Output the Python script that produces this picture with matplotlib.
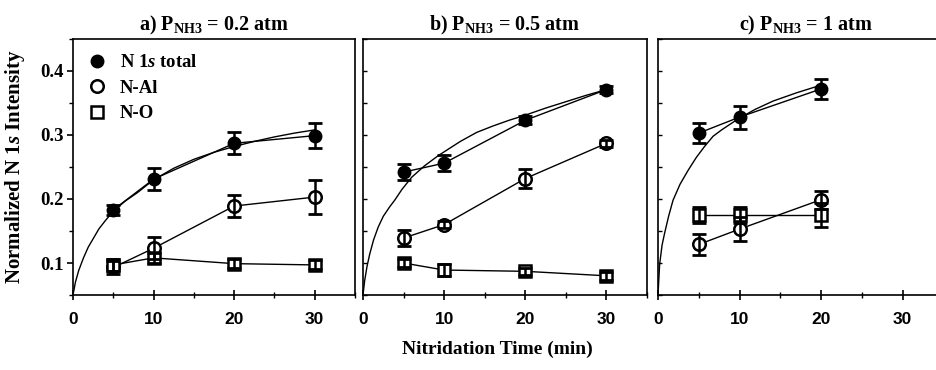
import matplotlib
matplotlib.use("Agg")
import matplotlib.pyplot as plt
from matplotlib.lines import Line2D
from matplotlib.ticker import MultipleLocator, NullFormatter

plt.rcParams.update({
    'font.family': 'Liberation Serif',
    'font.weight': 'bold',
    'font.size': 12,
    'mathtext.fontset': 'custom',
    'mathtext.rm': 'Liberation Serif:bold',
    'mathtext.it': 'Liberation Serif:italic:bold',
    'mathtext.bf': 'Liberation Serif:bold',
})

# data: nitridation time (min) vs normalized N 1s intensity
titles = [r'a) P$_{\mathrm{NH3}}$ = 0.2 atm',
          r'b) P$_{\mathrm{NH3}}$ = 0.5 atm',
          r'c) P$_{\mathrm{NH3}}$ = 1 atm']

t_a = [5, 10, 20, 30]
total_a = [0.183, 0.231, 0.287, 0.299]
total_a_err = [0.008, 0.017, 0.017, 0.020]
nal_a = [0.093, 0.123, 0.189, 0.203]
nal_a_err = [0.010, 0.017, 0.017, 0.026]
no_a = [0.097, 0.108, 0.099, 0.097]
no_a_err = [0.010, 0.008, 0.007, 0.007]
fit_a_t = [0, 0.3, 0.7, 1.3, 1.9, 2.6, 3.2, 4.0, 5.0, 6.5, 8, 10, 12.5, 15, 17.5, 20, 22.5, 25, 27.5, 30]
fit_a_y = [0.05, 0.070, 0.088, 0.108, 0.125, 0.140, 0.153, 0.166, 0.181, 0.197, 0.210, 0.230,
           0.248, 0.262, 0.273, 0.282, 0.290, 0.297, 0.303, 0.308]

t_b = [5, 10, 20, 30]
total_b = [0.242, 0.256, 0.323, 0.371]
total_b_err = [0.012, 0.013, 0.006, 0.005]
nal_b = [0.139, 0.160, 0.232, 0.287]
nal_b_err = [0.013, 0.005, 0.015, 0.005]
no_b = [0.100, 0.089, 0.087, 0.080]
no_b_err = [0.007, 0.010, 0.005, 0.006]
fit_b_t = [0, 0.2, 0.5, 0.83, 1.3, 1.87, 2.5, 3.3, 3.9, 4.8, 6.0, 7.6, 9.3, 12, 14, 16, 18, 20, 22.5, 25, 27.5, 30]
fit_b_y = [0.05, 0.072, 0.095, 0.114, 0.136, 0.156, 0.173, 0.188, 0.198, 0.215, 0.234, 0.252,
           0.268, 0.290, 0.304, 0.314, 0.323, 0.331, 0.342, 0.352, 0.362, 0.371]

t_c = [5, 10, 20]
total_c = [0.303, 0.328, 0.372]
total_c_err = [0.016, 0.018, 0.016]
nal_c = [0.129, 0.153, 0.199]
nal_c_err = [0.016, 0.019, 0.014]
no_c = [0.175, 0.175, 0.175]
no_c_err = [0.013, 0.013, 0.018]
fit_c_t = [0, 0.2, 0.5, 0.8, 1.3, 1.84, 2.7, 3.7, 4.7, 5.7, 6.75, 7.8, 9.8, 11.9, 14.1, 17, 20]
fit_c_y = [0.05, 0.098, 0.128, 0.146, 0.173, 0.198, 0.223, 0.245, 0.265, 0.282, 0.298, 0.308,
           0.325, 0.340, 0.353, 0.366, 0.378]

panels = [
    (t_a, total_a, total_a_err, nal_a, nal_a_err, no_a, no_a_err, fit_a_t, fit_a_y),
    (t_b, total_b, total_b_err, nal_b, nal_b_err, no_b, no_b_err, fit_b_t, fit_b_y),
    (t_c, total_c, total_c_err, nal_c, nal_c_err, no_c, no_c_err, fit_c_t, fit_c_y),
]

fig = plt.figure(figsize=(9.37, 3.70), dpi=100)
W, H = 937.0, 370.0
boxes = [(73, 355, 35.0), (363, 647, 35.0), (658, 937, 34.2)]
bot, top = 295, 39

ms_c = 9
ms_s = 8
for i, (box, data) in enumerate(zip(boxes, panels)):
    x0, x1, xmax = box
    ax = fig.add_axes([x0 / W, 1 - bot / H, (x1 - x0) / W, (bot - top) / H])
    t, tot, tot_e, nal, nal_e, no, no_e, ft, fy = data

    ax.plot(ft, fy, '-', color='black', lw=1.0, zorder=2)
    ax.plot(t, tot, '-', color='black', lw=1.0, zorder=2)
    ax.plot(t, nal, '-', color='black', lw=1.0, zorder=2)
    ax.plot(t, no, '-', color='black', lw=1.0, zorder=2)

    ax.plot(t, tot, 'o', color='black', ms=ms_c, zorder=3)
    ax.plot(t, nal, 'o', mfc='white', mec='black', mew=1.8, ms=ms_c, zorder=3)
    ax.plot(t, no, 's', mfc='white', mec='black', mew=1.8, ms=ms_s, zorder=3)
    for y, e in ((tot, tot_e), (nal, nal_e), (no, no_e)):
        ax.errorbar(t, y, yerr=e, fmt='none', ecolor='black', elinewidth=1.8,
                    capsize=5, capthick=2, zorder=4)

    ax.set_xlim(0, xmax)
    ax.set_ylim(0.05, 0.45)
    ax.xaxis.set_major_locator(MultipleLocator(10))
    ax.xaxis.set_minor_locator(MultipleLocator(5))
    ax.tick_params(axis='x', which='major', direction='inout', length=7, width=1.2, pad=9)
    ax.tick_params(axis='x', which='minor', direction='inout', length=4, width=1.0)
    for lab in ax.get_xticklabels():
        lab.set_fontfamily('Liberation Sans')
        lab.set_fontweight('bold')
        lab.set_fontsize(12.5)
    ax.yaxis.set_major_locator(MultipleLocator(0.1))
    ax.yaxis.set_minor_locator(MultipleLocator(0.05))
    if i == 0:
        ax.tick_params(axis='y', which='major', direction='out', length=4, width=1.2,
                       labelsize=13.5, pad=3)
        ax.tick_params(axis='y', which='minor', direction='out', length=3, width=1.0)
        ax.set_yticks([0.1, 0.2, 0.3, 0.4])
        ax.set_yticklabels(['0.1', '0.2', '0.3', '0.4'])
        ax.set_ylabel(r'Normalized N 1$\mathit{s}$ Intensity', fontsize=15,
                      fontweight='bold')
        ax.yaxis.set_label_coords(-46 / 282, 0.5)
        handles = [
            Line2D([], [], ls='none', marker='o', color='black', ms=ms_c),
            Line2D([], [], ls='none', marker='o', mfc='white', mec='black', mew=1.8, ms=ms_c),
            Line2D([], [], ls='none', marker='s', mfc='white', mec='black', mew=1.8, ms=ms_s),
        ]
        ax.legend(handles, [r'N 1$\mathit{s}$ total', 'N-Al', 'N-O'], loc='upper left',
                  frameon=False, handlelength=1.0, handletextpad=0.7, labelspacing=0.45,
                  borderaxespad=0.4, prop={'family': 'Liberation Serif', 'weight': 'bold', 'size': 13.5})
    else:
        ax.tick_params(axis='y', which='both', direction='in', length=3, width=1.0)
        ax.yaxis.set_major_formatter(NullFormatter())
    if i == 2:
        ax.spines['right'].set_visible(False)
        ax.set_title(titles[i], fontsize=14.5, fontweight='bold', pad=6, x=0.53)
    else:
        ax.set_title(titles[i], fontsize=14.5, fontweight='bold', pad=6)
    for sp in ax.spines.values():
        sp.set_linewidth(1.2)

fig.text(497 / W, 1 - 349 / H, 'Nitridation Time (min)', ha='center', va='center',
         fontsize=14, fontweight='bold')

fig.savefig('out.png', dpi=100)
